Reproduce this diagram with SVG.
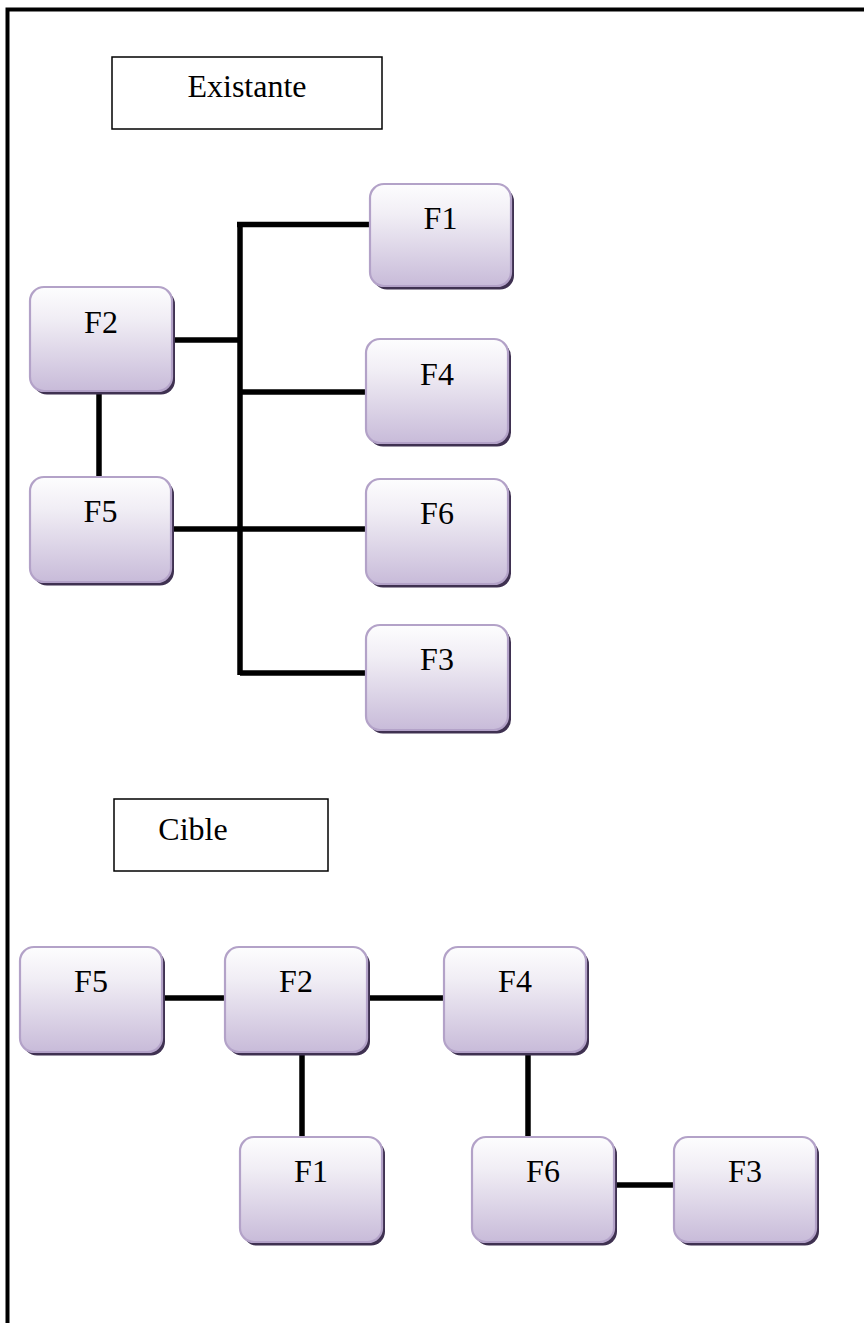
<svg xmlns="http://www.w3.org/2000/svg" width="864" height="1323" viewBox="0 0 864 1323">
<defs>
<linearGradient id="g" x1="0" y1="0" x2="0" y2="1">
<stop offset="0" stop-color="#fdfdfe"/>
<stop offset="0.3" stop-color="#f1eef5"/>
<stop offset="1" stop-color="#c8bbd9"/>
</linearGradient>
</defs>
<style>
.sh{fill:#3f3151}
.bx{fill:url(#g);stroke:#b3a2c8;stroke-width:2.2}
.t{font-family:"Liberation Serif","Times New Roman",serif;font-size:32px;fill:#000;text-anchor:middle}
.lb{fill:#fff;stroke:#000;stroke-width:1.5}
.c{stroke:#000;stroke-width:5.5;fill:none;stroke-linecap:butt}
</style>
<rect width="864" height="1323" fill="#fff"/>
<path d="M7.5,1323 V9.5 H864" fill="none" stroke="#000" stroke-width="4"/>

<g id="label-existante">
<rect class="lb" x="112" y="57" width="270" height="72"/>
<text class="t" x="247" y="97">Existante</text>
</g>
<g id="label-cible">
<rect class="lb" x="114" y="799" width="214" height="72"/>
<text class="t" x="193" y="840">Cible</text>
</g>

<g id="connectors">
<path class="c" d="M240,224.5 V675"/>
<path class="c" d="M237,224.5 H370"/>
<path class="c" d="M172,340 H240"/>
<path class="c" d="M240,392 H366"/>
<path class="c" d="M99,391 V477"/>
<path class="c" d="M172,529 H366"/>
<path class="c" d="M240,673 H370"/>
<path class="c" d="M163,998 H225"/>
<path class="c" d="M368,998 H444"/>
<path class="c" d="M302,1052 V1137"/>
<path class="c" d="M528,1052 V1137"/>
<path class="c" d="M614,1185 H674"/>
</g>

<g id="top-F1">
<rect class="sh" x="373" y="187.5" width="141" height="102" rx="14"/>
<rect class="bx" x="370" y="184" width="141" height="102" rx="14"/>
<text class="t" x="440.5" y="229">F1</text>
</g>
<g id="top-F2">
<rect class="sh" x="33" y="290.5" width="142" height="104" rx="14"/>
<rect class="bx" x="30" y="287" width="142" height="104" rx="14"/>
<text class="t" x="101" y="333">F2</text>
</g>
<g id="top-F4">
<rect class="sh" x="369" y="342.5" width="142" height="104" rx="14"/>
<rect class="bx" x="366" y="339" width="142" height="104" rx="14"/>
<text class="t" x="437" y="385">F4</text>
</g>
<g id="top-F5">
<rect class="sh" x="33" y="480.5" width="141" height="105" rx="14"/>
<rect class="bx" x="30" y="477" width="141" height="105" rx="14"/>
<text class="t" x="100.5" y="522">F5</text>
</g>
<g id="top-F6">
<rect class="sh" x="369" y="482.5" width="142" height="105" rx="14"/>
<rect class="bx" x="366" y="479" width="142" height="105" rx="14"/>
<text class="t" x="437" y="524">F6</text>
</g>
<g id="top-F3">
<rect class="sh" x="369" y="628.5" width="142" height="105" rx="14"/>
<rect class="bx" x="366" y="625" width="142" height="105" rx="14"/>
<text class="t" x="437" y="670">F3</text>
</g>

<g id="bottom-F5">
<rect class="sh" x="23" y="950.5" width="142" height="105" rx="14"/>
<rect class="bx" x="20" y="947" width="142" height="105" rx="14"/>
<text class="t" x="91" y="992">F5</text>
</g>
<g id="bottom-F2">
<rect class="sh" x="228" y="950.5" width="142" height="105" rx="14"/>
<rect class="bx" x="225" y="947" width="142" height="105" rx="14"/>
<text class="t" x="296" y="992">F2</text>
</g>
<g id="bottom-F4">
<rect class="sh" x="447" y="950.5" width="142" height="105" rx="14"/>
<rect class="bx" x="444" y="947" width="142" height="105" rx="14"/>
<text class="t" x="515" y="992">F4</text>
</g>
<g id="bottom-F1">
<rect class="sh" x="243" y="1140.5" width="142" height="105" rx="14"/>
<rect class="bx" x="240" y="1137" width="142" height="105" rx="14"/>
<text class="t" x="311" y="1182">F1</text>
</g>
<g id="bottom-F6">
<rect class="sh" x="475" y="1140.5" width="142" height="105" rx="14"/>
<rect class="bx" x="472" y="1137" width="142" height="105" rx="14"/>
<text class="t" x="543" y="1182">F6</text>
</g>
<g id="bottom-F3">
<rect class="sh" x="677" y="1140.5" width="142" height="105" rx="14"/>
<rect class="bx" x="674" y="1137" width="142" height="105" rx="14"/>
<text class="t" x="745" y="1182">F3</text>
</g>
</svg>
